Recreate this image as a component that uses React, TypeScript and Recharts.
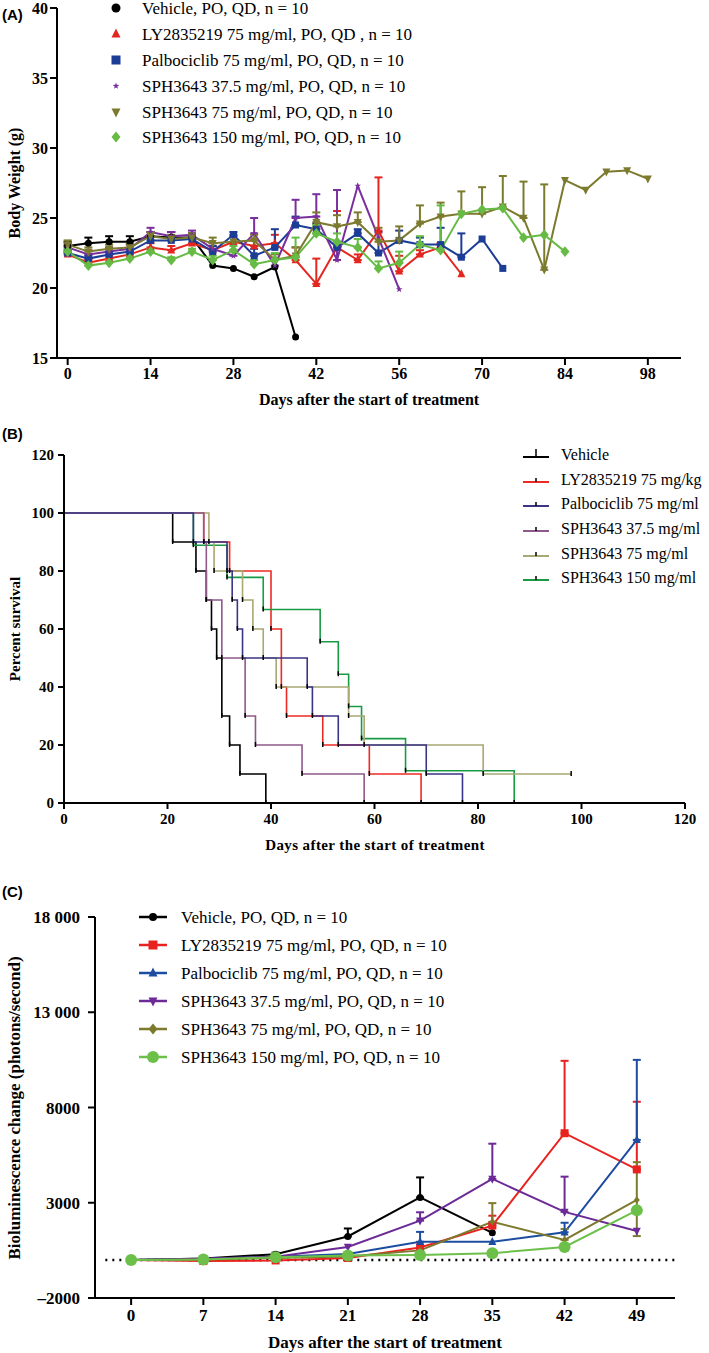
import React from "react";
import { LineChart, Line, XAxis, YAxis, ErrorBar, ReferenceLine } from "recharts";

const SERIF = '"Liberation Serif", "Times New Roman", serif';
const SANS = '"Liberation Sans", Arial, sans-serif';

// ---------- (A) body weight ----------
const daysA = [0, 3.5, 7, 10.5, 14, 17.5, 21, 24.5, 28, 31.5, 35, 38.5, 42, 45.5, 49, 52.5, 56, 59.5, 63, 66.5, 70, 73.5, 77, 80.5, 84, 87.5, 91, 94.5, 98];
const weightTicks = [15, 20, 25, 30, 35, 40];
const dayTicksA = [0, 14, 28, 42, 56, 70, 84, 98];

const wVehicle = [23.0, 23.2, 23.3, 23.3, 23.7, 23.6, 23.6, 21.6, 21.4, 20.8, 21.5, 16.5];
const wVehicleErr = [0.3, 0.4, 0.4, 0.4, 0.3, 0.4, 0.3, 0, 0, 0, 0, 0];
const wLy = [22.4, 21.8, 22.1, 22.4, 22.9, 22.7, 23.2, 22.7, 23.3, 23.0, 23.2, 22.0, 20.3, 22.9, 22.0, 24.1, 21.2, 22.4, 22.9, 21.0];
const wLyErr = [0.2, 0.2, 0.2, 0.2, 0.3, 0.3, 0.3, 0.3, 0.4, 0.4, 0.6, 0.9, 1.8, 2.6, 0.4, 3.8, 1.1, 0.3, 0.3, 0];
const wPalbo = [22.5, 22.1, 22.4, 22.6, 23.4, 23.4, 23.5, 22.6, 23.8, 22.3, 22.9, 24.5, 24.2, 22.9, 23.9, 22.5, 23.4, 23.1, 23.1, 22.2, 23.5, 21.4];
const wPalboErr = [0.2, 0.2, 0.2, 0.2, 0.3, 0.3, 0.3, 0.4, 0.2, 0.5, 1.3, 0.6, 0.4, 0.4, 0.3, 1.5, 0.7, 0.5, 1.2, 1.7, 0, 0];
const wSph37 = [22.9, 22.4, 22.6, 22.8, 24.0, 23.7, 23.8, 22.8, 22.3, 23.9, 21.6, 25.0, 25.1, 22.0, 27.3, 23.6, 19.9];
const wSph37Err = [0.3, 0.3, 0.3, 0.3, 0.3, 0.3, 0.3, 0.4, 0.4, 1.1, 0.4, 1.3, 1.6, 5.0, 0, 0, 0];
const wSph75 = [23.1, 22.6, 22.8, 22.9, 23.7, 23.5, 23.6, 23.2, 23.3, 23.4, 22.0, 22.3, 24.7, 24.4, 24.7, 23.3, 23.4, 24.6, 25.1, 25.3, 25.3, 25.8, 25.0, 21.3, 27.7, 27.0, 28.3, 28.4, 27.8];
const wSph75Err = [0.3, 0.3, 0.3, 0.3, 0.3, 0.3, 0.3, 0.4, 0.4, 0.4, 0.4, 0.6, 0.7, 0.8, 0.7, 1.0, 1.0, 1.3, 1.0, 1.6, 1.9, 2.2, 2.6, 6.1, 0, 0, 0, 0, 0];
const wSph150 = [22.6, 21.6, 21.8, 22.1, 22.6, 22.0, 22.6, 22.0, 22.7, 21.7, 22.0, 22.2, 23.9, 23.3, 22.9, 21.4, 21.8, 23.1, 22.7, 25.3, 25.6, 25.7, 23.6, 23.8, 22.6];
const wSph150Err = [0.2, 0.2, 0.2, 0.2, 0.2, 0.2, 0.2, 0.3, 0.3, 0.3, 0.5, 1.4, 0.6, 0.6, 0.6, 0.5, 0.8, 0.6, 3.2, 0, 0, 0, 0, 0, 0];

// ---------- (B) survival ----------
const survTicks = [0, 20, 40, 60, 80, 100, 120];
const sVehicleDays = [0, 21, 25.5, 27.5, 28.5, 29.5, 30.5, 32, 34, 39];
const sVehiclePct = [100, 90, 80, 70, 60, 50, 30, 20, 10, 0];
const sLyDays = [0, 27, 32, 40, 42, 43, 50, 59, 69];
const sLyPct = [100, 90, 80, 60, 40, 30, 20, 10, 0];
const sPalboDays = [0, 25, 31.5, 32.5, 33.5, 34.5, 47, 48, 53, 70, 77];
const sPalboPct = [100, 90, 80, 70, 60, 50, 40, 30, 20, 10, 0];
const sSph37Days = [0, 27, 27.5, 30.5, 35, 37, 46, 58];
const sSph37Pct = [100, 90, 70, 50, 30, 20, 10, 0];
const sSph75Days = [0, 28, 29, 34.5, 36.5, 38.5, 41, 55, 58, 81, 98];
const sSph75Pct = [100, 90, 80, 70, 60, 50, 40, 30, 20, 10, 10];
const sSph150Days = [0, 25, 31.5, 38.5, 49.5, 53, 55, 57.5, 66, 87];
const sSph150Pct = [100, 88.9, 77.8, 66.7, 55.6, 44.4, 33.3, 22.2, 11.1, 0];

// ---------- (C) bioluminescence ----------
const daysC = [0, 7, 14, 21, 28, 35, 42, 49];
const bioTicks = [-2000, 3000, 8000, 13000, 18000];
const bVehicle = [0, 80, 300, 1230, 3280, 1420];
const bVehicleErr = [0, 0, 80, 420, 1050, 0];
const bLy = [0, -60, -30, 100, 650, 1800, 6650, 4750];
const bLyErr = [0, 0, 0, 0, 0, 520, 3800, 3550];
const bPalbo = [0, 60, 160, 310, 950, 950, 1450, 6300];
const bPalboErr = [0, 0, 0, 0, 520, 0, 500, 4200];
const bSph37 = [0, 60, 170, 680, 2060, 4250, 2520, 1520];
const bSph37Err = [0, 0, 0, 0, 440, 1850, 1850, 0];
const bSph75 = [0, 20, 100, 180, 500, 2000, 1050, 3150];
const bSph75Err = [0, 0, 0, 0, 0, 980, 570, 1980];
const bSph75ErrLow = [0, 0, 0, 0, 0, 0, 0, 1900];
const bSph150 = [0, 20, 140, 230, 260, 350, 680, 2600];

const rows = (days: number[], vals: number[], errs?: number[], lows?: number[]) =>
  vals.map((v, i) => {
    const hi = errs ? errs[i] : 0;
    const lo = lows ? lows[i] : 0;
    return { day: days[i], value: v, err: hi || lo ? [lo, hi] : null };
  });

type Shape = "circle" | "square" | "triangle" | "triDown" | "diamond" | "star";

const marker = (shape: Shape, cx: number, cy: number, s: number, color: string, key?: any) => {
  switch (shape) {
    case "circle":
      return <circle key={key} cx={cx} cy={cy} r={s / 2} fill={color} />;
    case "square":
      return <rect key={key} x={cx - s / 2} y={cy - s / 2} width={s} height={s} fill={color} />;
    case "triangle":
      return <polygon key={key} points={`${cx},${cy - s * 0.6} ${cx - s / 2},${cy + s * 0.4} ${cx + s / 2},${cy + s * 0.4}`} fill={color} />;
    case "triDown":
      return <polygon key={key} points={`${cx},${cy + s * 0.6} ${cx - s / 2},${cy - s * 0.4} ${cx + s / 2},${cy - s * 0.4}`} fill={color} />;
    case "diamond":
      return <polygon key={key} points={`${cx},${cy - s * 0.6} ${cx + s / 2},${cy} ${cx},${cy + s * 0.6} ${cx - s / 2},${cy}`} fill={color} />;
    default: {
      const pts: string[] = [];
      for (let k = 0; k < 10; k++) {
        const r = k % 2 === 0 ? s / 2 : s / 5;
        const a = -Math.PI / 2 + (k * Math.PI) / 5;
        pts.push(`${cx + r * Math.cos(a)},${cy + r * Math.sin(a)}`);
      }
      return <polygon key={key} points={pts.join(" ")} fill={color} />;
    }
  }
};

const dotFor = (shape: Shape, color: string, size: number) => (p: any) =>
  p.cx == null || p.cy == null ? <g key={`e${p.index}`} /> : marker(shape, p.cx, p.cy, size, color, `d${p.index}`);

const seriesA = [
  { name: "Vehicle, PO, QD, n = 10", color: "#000000", shape: "circle" as Shape, size: 7, vals: wVehicle, errs: wVehicleErr },
  { name: "LY2835219 75 mg/ml, PO, QD , n = 10", color: "#e3261f", shape: "triangle" as Shape, size: 8, vals: wLy, errs: wLyErr },
  { name: "Palbociclib  75 mg/ml, PO, QD, n = 10", color: "#1c3d96", shape: "square" as Shape, size: 7, vals: wPalbo, errs: wPalboErr },
  { name: "SPH3643 37.5 mg/ml, PO, QD, n = 10", color: "#7a2f9e", shape: "star" as Shape, size: 7, vals: wSph37, errs: wSph37Err },
  { name: "SPH3643 75 mg/ml, PO, QD, n = 10", color: "#7c7a2e", shape: "triDown" as Shape, size: 8, vals: wSph75, errs: wSph75Err },
  { name: "SPH3643 150 mg/ml, PO, QD, n = 10", color: "#66bb44", shape: "diamond" as Shape, size: 9, vals: wSph150, errs: wSph150Err },
];

const seriesB = [
  { name: "Vehicle", color: "#000000", days: sVehicleDays, pct: sVehiclePct },
  { name: "LY2835219 75 mg/kg", color: "#ee2a24", days: sLyDays, pct: sLyPct },
  { name: "Palbociclib 75 mg/ml", color: "#3b3585", days: sPalboDays, pct: sPalboPct },
  { name: "SPH3643 37.5 mg/ml", color: "#8f5a8a", days: sSph37Days, pct: sSph37Pct },
  { name: "SPH3643 75 mg/ml", color: "#a8a873", days: sSph75Days, pct: sSph75Pct },
  { name: "SPH3643 150 mg/ml", color: "#1a9a45", days: sSph150Days, pct: sSph150Pct },
];
const drawOrderB = [0, 1, 5, 4, 3, 2];

const seriesC = [
  { name: "Vehicle, PO, QD, n = 10", color: "#000000", shape: "circle" as Shape, size: 7, vals: bVehicle, errs: bVehicleErr },
  { name: "LY2835219 75 mg/ml, PO, QD, n = 10", color: "#e8231f", shape: "square" as Shape, size: 8, vals: bLy, errs: bLyErr },
  { name: "Palbociclib  75 mg/ml, PO, QD, n = 10", color: "#1d4da0", shape: "triangle" as Shape, size: 8, vals: bPalbo, errs: bPalboErr },
  { name: "SPH3643 37.5 mg/ml, PO, QD, n = 10", color: "#6c2a96", shape: "triDown" as Shape, size: 8, vals: bSph37, errs: bSph37Err },
  { name: "SPH3643 75 mg/ml, PO, QD, n = 10", color: "#7d7a2e", shape: "diamond" as Shape, size: 6, vals: bSph75, errs: bSph75Err, lows: bSph75ErrLow },
  { name: "SPH3643 150 mg/ml, PO, QD, n = 10", color: "#6cc04a", shape: "circle" as Shape, size: 12, vals: bSph150 },
];

const axisStyle = { stroke: "#000", strokeWidth: 2 };
const tickFont = (size: number) => ({ fill: "#000", fontSize: size, fontWeight: 700, fontFamily: SERIF });

const Txt = ({ x, y, size, bold, center, rotate, family, spacing, children }: any) => (
  <div
    style={{
      position: "absolute",
      left: x,
      top: y,
      fontSize: size,
      fontWeight: bold ? 700 : 400,
      fontFamily: family || SERIF,
      letterSpacing: spacing || 0,
      lineHeight: 1,
      whiteSpace: "nowrap",
      color: "#000",
      transform: rotate ? "translate(-50%,-50%) rotate(-90deg)" : center ? "translate(-50%,-50%)" : "translateY(-50%)",
    }}
  >
    {children}
  </div>
);

const legendRowsA = [8, 34, 60, 86, 112, 137];
const legendRowsB = [455, 480, 504, 529, 554, 578];
const legendRowsC = [917, 945, 973, 1001, 1029, 1057];

const survivalTick = (p: any) =>
  p.index === 0 || p.cx == null ? (
    <g key={`t${p.index}`} />
  ) : (
    <line key={`t${p.index}`} x1={p.cx} x2={p.cx} y1={p.cy - 3} y2={p.cy + 2} stroke="#000" strokeWidth={1.5} />
  );

const fmtC = (v: number) => (v < 0 ? "\u20132000" : v >= 10000 ? `${Math.floor(v / 1000)} ${String(v % 1000).padStart(3, "0")}` : `${v}`);

export default function App() {
  return (
    <div style={{ position: "absolute", left: 0, top: 0, width: 709, height: 1353, background: "#fff", overflow: "hidden" }}>
      {/* (A) */}
      <div style={{ position: "absolute", left: 0, top: 0 }}>
        <LineChart width={709} height={420} margin={{ top: 8, right: 28, bottom: 0, left: 0 }}>
          <XAxis dataKey="day" type="number" domain={[-1.8, 103.6]} ticks={dayTicksA} allowDataOverflow interval={0} height={62} tickSize={7} tickMargin={3} axisLine={axisStyle} tickLine={axisStyle} tick={tickFont(16)} />
          <YAxis type="number" domain={[15, 40]} ticks={weightTicks} allowDataOverflow interval={0} width={57} tickSize={7} tickMargin={2} axisLine={axisStyle} tickLine={axisStyle} tick={tickFont(16)} />
          {seriesA.map((s) => (
            <Line key={s.name} data={rows(daysA, s.vals, s.errs)} dataKey="value" stroke={s.color} strokeWidth={2} dot={dotFor(s.shape, s.color, s.size)} activeDot={false} isAnimationActive={false}>
              <ErrorBar dataKey="err" width={4} strokeWidth={2} stroke={s.color} direction="y" />
            </Line>
          ))}
        </LineChart>
      </div>
      <Txt x={2} y={14} size={15} bold family={SANS}>(A)</Txt>
      <Txt x={15} y={183} size={16} bold rotate>Body Weight (g)</Txt>
      <Txt x={369} y={400} size={16} bold center>Days after the start of treatment</Txt>
      {seriesA.map((s, i) => (
        <React.Fragment key={s.name}>
          <svg style={{ position: "absolute", left: 108, top: legendRowsA[i] - 8 }} width={16} height={16}>
            {marker(s.shape, 8, 8, s.shape === "star" ? 7 : 9, s.color)}
          </svg>
          <Txt x={142} y={legendRowsA[i]} size={17}>{s.name}</Txt>
        </React.Fragment>
      ))}

      {/* (B) */}
      <div style={{ position: "absolute", left: 0, top: 440 }}>
        <LineChart width={709} height={403} margin={{ top: 15, right: 24, bottom: 0, left: 0 }}>
          <XAxis dataKey="day" type="number" domain={[0, 120]} ticks={survTicks} allowDataOverflow interval={0} height={40} tickSize={6} tickMargin={4} axisLine={axisStyle} tickLine={axisStyle} tick={tickFont(15)} />
          <YAxis type="number" domain={[0, 120]} ticks={survTicks} allowDataOverflow interval={0} width={64} tickSize={6} tickMargin={4} axisLine={axisStyle} tickLine={axisStyle} tick={tickFont(15)} />
          {drawOrderB.map((k) => {
            const s = seriesB[k];
            return (
              <Line key={s.name} data={s.days.map((d, i) => ({ day: d, pct: s.pct[i] }))} dataKey="pct" type="stepAfter" stroke={s.color} strokeWidth={1.6} dot={survivalTick} activeDot={false} isAnimationActive={false} />
            );
          })}
        </LineChart>
      </div>
      <Txt x={2} y={433} size={15} bold family={SANS}>(B)</Txt>
      <Txt x={15} y={629} size={15} bold rotate>Percent survival</Txt>
      <Txt x={375} y={845} size={15} bold center spacing={0.4}>Days after the start of treatment</Txt>
      {seriesB.map((s, i) => (
        <React.Fragment key={s.name}>
          <svg style={{ position: "absolute", left: 522, top: legendRowsB[i] - 8 }} width={28} height={16}>
            <line x1={1} x2={27} y1={10} y2={10} stroke={s.color} strokeWidth={2} />
            <line x1={14} x2={14} y1={i === 0 ? 2 : 6} y2={10} stroke="#000" strokeWidth={1.5} />
          </svg>
          <Txt x={561} y={legendRowsB[i]} size={16}>{s.name}</Txt>
        </React.Fragment>
      ))}

      {/* (C) */}
      <div style={{ position: "absolute", left: 0, top: 900 }}>
        <LineChart width={709} height={438} margin={{ top: 17, right: 34, bottom: 0, left: 0 }}>
          <XAxis dataKey="day" type="number" domain={[-3.5, 52.7]} ticks={daysC} allowDataOverflow interval={0} height={40} tickSize={7} tickMargin={4} axisLine={axisStyle} tickLine={axisStyle} tick={tickFont(17)} />
          <YAxis type="number" domain={[-2000, 18000]} ticks={bioTicks} allowDataOverflow interval={0} width={95} tickSize={7} tickMargin={8} axisLine={axisStyle} tickLine={axisStyle} tick={tickFont(17)} tickFormatter={fmtC} />
          <ReferenceLine segment={[{ x: -2.5, y: 0 }, { x: 52.7, y: 0 }]} stroke="#000" strokeWidth={2.5} strokeDasharray="2 5" />
          {seriesC.map((s) => (
            <Line key={s.name} data={rows(daysC, s.vals, s.errs, s.lows)} dataKey="value" stroke={s.color} strokeWidth={2} dot={dotFor(s.shape, s.color, s.size)} activeDot={false} isAnimationActive={false}>
              <ErrorBar dataKey="err" width={4} strokeWidth={2} stroke={s.color} direction="y" />
            </Line>
          ))}
        </LineChart>
      </div>
      <Txt x={2} y={891} size={15} bold family={SANS}>(C)</Txt>
      <Txt x={14} y={1108} size={17} bold rotate>Bioluminescence change (photons/second)</Txt>
      <Txt x={385} y={1342} size={17} bold center>Days after the start of treatment</Txt>
      {seriesC.map((s, i) => (
        <React.Fragment key={s.name}>
          <svg style={{ position: "absolute", left: 138, top: legendRowsC[i] - 8 }} width={30} height={16}>
            <line x1={1} x2={29} y1={8} y2={8} stroke={s.color} strokeWidth={2.5} />
            {marker(s.shape, 15, 8, s.shape === "circle" ? (s.size > 10 ? 12 : 8) : 9, s.color)}
          </svg>
          <Txt x={181} y={legendRowsC[i]} size={17}>{s.name}</Txt>
        </React.Fragment>
      ))}
    </div>
  );
}
